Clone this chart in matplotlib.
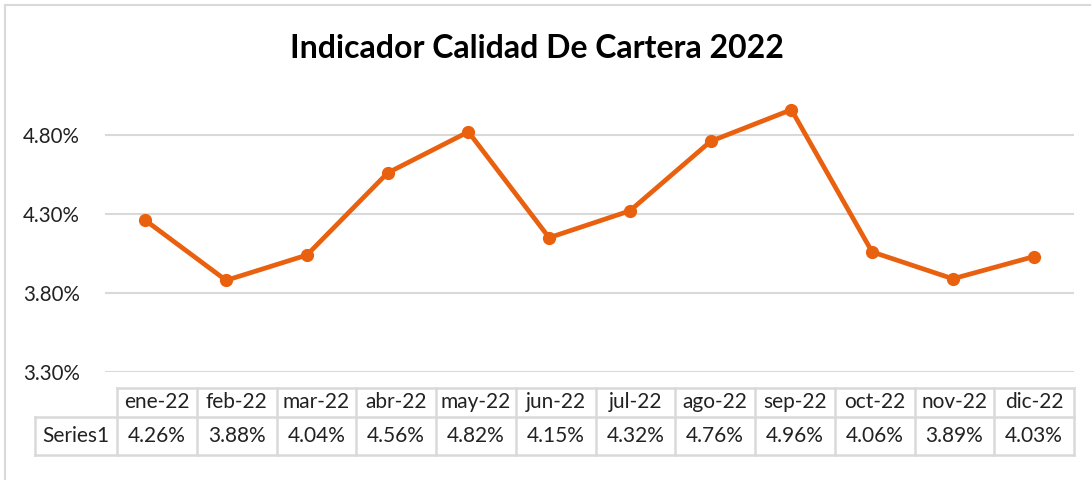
import matplotlib
matplotlib.use("Agg")
import matplotlib.pyplot as plt
from matplotlib.patches import Rectangle
from matplotlib.lines import Line2D
from matplotlib.ticker import FuncFormatter

plt.rcParams['font.family'] = ['Lato', 'DejaVu Sans']

title = "Indicador Calidad De Cartera 2022"
series_name = "Series1"
months = ["ene-22", "feb-22", "mar-22", "abr-22", "may-22", "jun-22",
          "jul-22", "ago-22", "sep-22", "oct-22", "nov-22", "dic-22"]
values = [4.26, 3.88, 4.04, 4.56, 4.82, 4.15, 4.32, 4.76, 4.96, 4.06, 3.89, 4.03]
yticks = [3.30, 3.80, 4.30, 4.80]

W, H = 1091, 480
fig = plt.figure(figsize=(W / 100, H / 100), dpi=100)

def fx(px):
    return px / W

def fy(py):
    return 1 - py / H

# chart border
fig.patches.append(Rectangle((fx(5), fy(490)), 1.2, fy(5) - fy(490), transform=fig.transFigure,
                             fill=False, edgecolor='#D9D9D9', linewidth=1.5))

ymin, ymax = 3.30, 5.10
left, right = 105, 1074
ybot = 372
ytop = ybot - (ymax - ymin) * 158
ax = fig.add_axes([fx(left), fy(ybot), fx(right) - fx(left), fy(ytop) - fy(ybot)])
x = list(range(len(months)))
ax.plot(x, values, color='#E9600F', linewidth=3.4, marker='o', markersize=8.5,
        solid_capstyle='round', zorder=3)
ax.set_xlim(-0.5, len(months) - 0.5)
ax.set_ylim(ymin, ymax)
ax.set_yticks(yticks)
ax.yaxis.set_major_formatter(FuncFormatter(lambda v, p: f"{v:.2f}%"))
ax.set_xticks([])
ax.tick_params(axis='y', length=0, pad=18, labelsize=14.8, labelcolor='#222222')
ax.grid(axis='y', color='#D9D9D9', linewidth=1.5)
ax.set_axisbelow(True)
for s in ax.spines.values():
    s.set_visible(False)

fig.text(fx(537), fy(49), title, ha='center', va='center', fontsize=23,
         fontweight='bold', color='black')

# data table
col0_l, col0_r = 35, 117
col_r = 1074
top, mid, bot = 388, 417, 455
cw = (col_r - col0_r) / len(months)
lc = '#D9D9D9'
lw = 1.8

def hline(y, x0, x1):
    fig.add_artist(Line2D([fx(x0), fx(x1)], [fy(y), fy(y)], transform=fig.transFigure,
                          color=lc, linewidth=lw))

def vline(xp, y0, y1):
    fig.add_artist(Line2D([fx(xp), fx(xp)], [fy(y0), fy(y1)], transform=fig.transFigure,
                          color=lc, linewidth=lw))

hline(top, col0_r, col_r)
hline(mid, col0_l, col_r)
hline(bot, col0_l, col_r)
vline(col0_l, mid, bot)
for i in range(len(months) + 1):
    vline(col0_r + i * cw, top, bot)

fs = 15
fig.text(fx((col0_l + col0_r) / 2), fy((mid + bot) / 2), series_name, ha='center',
         va='center', fontsize=fs, color='#222222')
for i, (m, v) in enumerate(zip(months, values)):
    cx = col0_r + (i + 0.5) * cw
    fig.text(fx(cx), fy((top + mid) / 2), m, ha='center', va='center', fontsize=fs,
             color='#222222')
    fig.text(fx(cx), fy((mid + bot) / 2), f"{v:.2f}%", ha='center', va='center',
             fontsize=fs, color='#222222')

fig.savefig("out.png", dpi=100)
